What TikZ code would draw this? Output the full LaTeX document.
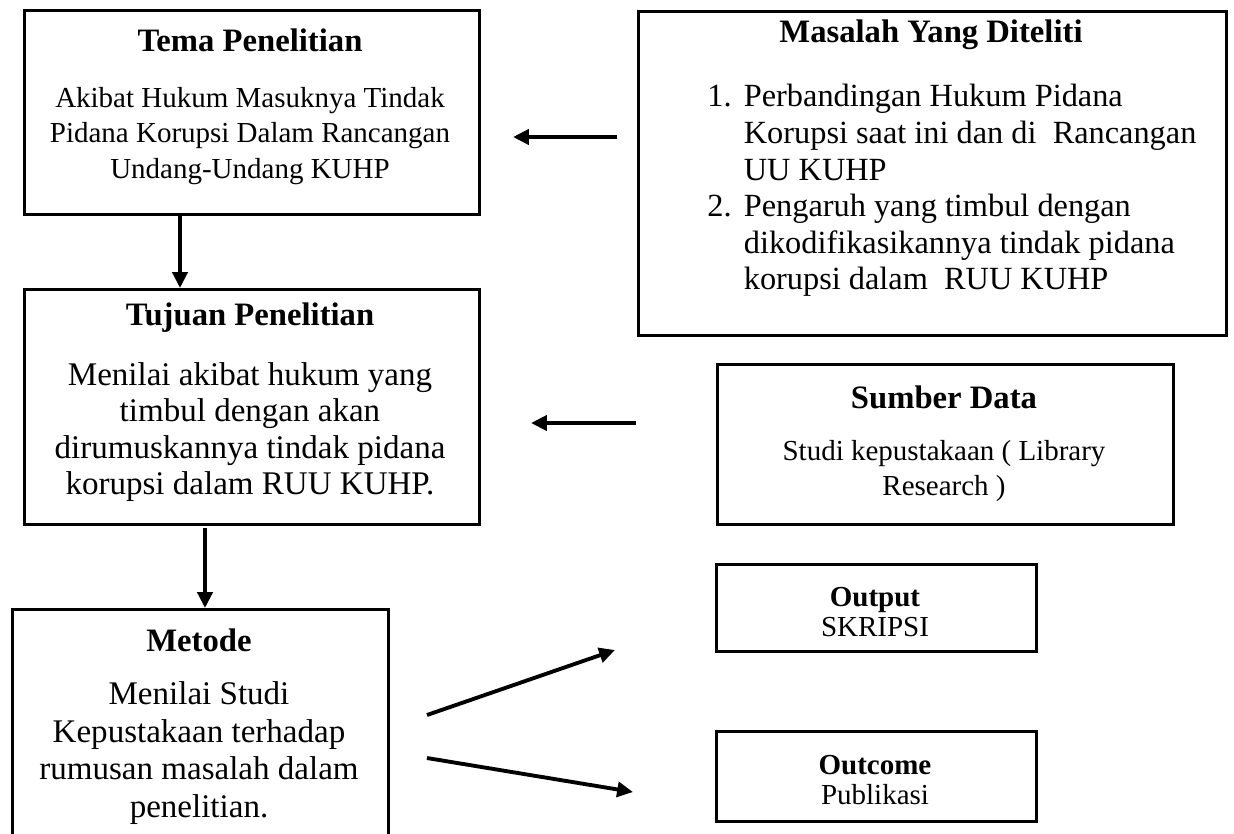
\documentclass[tikz,border=0pt]{standalone}
\usepackage{fontspec}
\setmainfont{Liberation Serif}
\usetikzlibrary{arrows.meta}
\tikzset{
  kotak/.style={draw, line width=1.5pt, inner sep=0pt, anchor=north west},
  judul/.style={font=\fontsize{18.6}{21}\selectfont\bfseries},
  isi/.style={font=\fontsize{18.8}{20.8}\selectfont, align=center},
  isikecil/.style={font=\fontsize{16.5}{20.4}\selectfont, align=center},
  panah/.style={->, line width=2.2pt}
}
\begin{document}
\begin{tikzpicture}[x=0.02cm, y=-0.02cm, >={Triangle[length=9pt,width=8.5pt]}]
    \useasboundingbox (0,0) rectangle (1234,833);
    \clip (0,0) rectangle (1234,833);
    % Tema
    \node[kotak, minimum width=9.1cm, minimum height=4.08cm] (tema) at (23,9) {};
    \node[judul] (temaj) at (250,40) {Tema Penelitian};
    \node[isikecil] (temai) at (250,136) {Akibat Hukum Masuknya Tindak\\Pidana Korupsi Dalam Rancangan\\Undang-Undang KUHP};
    % Masalah
    \node[kotak, minimum width=11.76cm, minimum height=6.48cm] (masalah) at (637,10) {};
    \node[judul] (masalahj) at (931,35) {Masalah Yang Diteliti};
    \node[isi, anchor=west, align=left, inner sep=0pt, font=\fontsize{18.4}{20.8}\selectfont] (masalahi) at (707,191) {%
      \renewcommand{\arraystretch}{1.0}%
      \begin{tabular}{@{}l@{\hspace{7pt}}l@{}}
        1. & Perbandingan Hukum Pidana\\
           & Korupsi saat ini dan di\ \ Rancangan\\
           & UU KUHP\\
        2. & Pengaruh yang timbul dengan\\
           & dikodifikasikannya tindak pidana\\
           & korupsi dalam\ \ RUU KUHP
      \end{tabular}};
    % Tujuan
    \node[kotak, minimum width=9.1cm, minimum height=4.7cm] (tujuan) at (23,288) {};
    \node[judul] (tujuanj) at (250,318) {Tujuan Penelitian};
    \node[isi] (tujuani) at (250,432) {Menilai akibat hukum yang\\timbul dengan akan\\dirumuskannya tindak pidana\\korupsi dalam RUU KUHP.};
    % Sumber data
    \node[kotak, minimum width=9.12cm, minimum height=3.2cm] (sumber) at (716,363) {};
    \node[judul] (sumberj) at (944,397) {Sumber Data};
    \node[isikecil] (sumberi) at (944,471) {Studi kepustakaan ( Library\\Research )};
    % Metode
    \node[kotak, minimum width=7.52cm, minimum height=5cm] (metode) at (11,608) {};
    \node[judul] (metodej) at (199,640) {Metode};
    \node[isi, font=\fontsize{18.8}{21.4}\selectfont] (metodei) at (199,753) {Menilai Studi\\Kepustakaan terhadap\\rumusan masalah dalam\\penelitian.};
    % Output dan outcome
    \node[kotak, minimum width=6.4cm, minimum height=1.74cm] (output) at (715,563) {};
    \node[isikecil, font=\fontsize{16.5}{17}\selectfont] (outputi) at (875,612) {\textbf{Output}\\SKRIPSI};
    \node[kotak, minimum width=6.4cm, minimum height=1.8cm] (outcome) at (715,730) {};
    \node[isikecil, font=\fontsize{16.5}{17}\selectfont] (outcomei) at (875,780) {\textbf{Outcome}\\Publikasi};
    % panah
    \coordinate (m1) at (617,137);
    \coordinate (t1) at (513,137);
    \draw[panah] (m1) -- (t1);
    \coordinate (s1) at (636,423);
    \coordinate (t2) at (531,423);
    \draw[panah] (s1) -- (t2);
    \coordinate (x1) at (180,0);
    \draw[panah] (x1 |- tema.south) -- (x1 |- tujuan.north);
    \coordinate (x2) at (205,0);
    \coordinate (t3) at (205,528);
    \draw[panah] (t3) -- (x2 |- metode.north);
    \coordinate (k1) at (427,715);
    \coordinate (o1) at (615,650);
    \draw[panah] (k1) -- (o1);
    \coordinate (k2) at (427,758);
    \coordinate (o2) at (633,792);
    \draw[panah] (k2) -- (o2);
\end{tikzpicture}
\end{document}
